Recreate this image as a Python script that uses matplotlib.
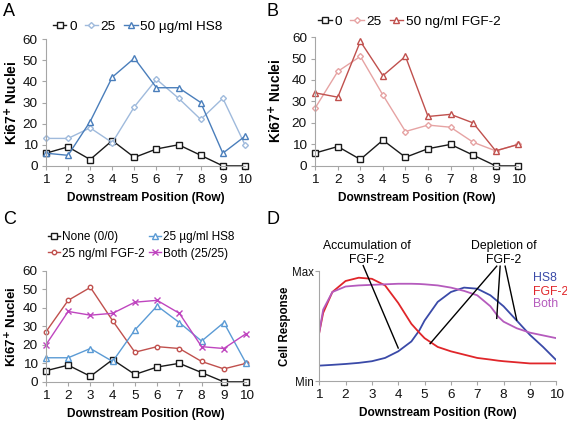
import matplotlib.pyplot as plt

plt.rcParams['font.family'] = ['Liberation Sans', 'DejaVu Sans']

# ---- data ----
rows = [1, 2, 3, 4, 5, 6, 7, 8, 9, 10]

none_vals = [6, 9, 3, 12, 4, 8, 10, 5, 0, 0]
hs8_25 = [13, 13, 18, 11, 28, 41, 32, 22, 32, 10]
hs8_50 = [6, 5, 21, 42, 51, 37, 37, 30, 6, 14]
fgf_25 = [27, 44, 51, 33, 16, 19, 18, 11, 7, 10]
fgf_50 = [34, 32, 58, 42, 51, 23, 24, 20, 7, 10]
both_25 = [20, 38, 36, 37, 43, 44, 37, 19, 18, 26]

# schematic curves (panel D), 0 = Min, 1 = Max
d_x = [1, 1.15, 1.5, 2, 2.5, 3, 3.5, 4, 4.5, 4.8, 5, 5.5, 6, 6.5, 7, 7.5, 7.8, 8, 8.5, 9, 9.5, 10]
d_hs8 = [0.14, 0.142, 0.147, 0.155, 0.165, 0.18, 0.21, 0.27, 0.36, 0.46, 0.55, 0.72, 0.81,
         0.85, 0.84, 0.78, 0.72, 0.68, 0.55, 0.42, 0.31, 0.19]
d_fgf = [0.44, 0.62, 0.81, 0.91, 0.94, 0.93, 0.87, 0.71, 0.52, 0.44, 0.39, 0.31, 0.27,
         0.24, 0.21, 0.195, 0.185, 0.18, 0.17, 0.16, 0.16, 0.16]
d_both = [0.44, 0.65, 0.81, 0.86, 0.87, 0.875, 0.88, 0.885, 0.885, 0.883, 0.88, 0.87, 0.85,
          0.82, 0.78, 0.68, 0.585, 0.54, 0.48, 0.44, 0.415, 0.39]

BLACK = '#1a1a1a'
LBLUE = '#9fbadc'
BLUE = '#4a7ebb'
LRED = '#e6a3a3'
RED = '#c0504d'
MAG = '#bf45bf'
GRID = '#a6a6a6'
TICK_FS = 9.7
XLAB_FS = 8.6

fig = plt.figure(figsize=(5.67, 4.21), dpi=100)


def style_axes(ax):
    ax.set_xlim(1, 10)
    ax.set_xticks(rows)
    for s in ['top', 'right']:
        ax.spines[s].set_visible(False)
    for s in ['left', 'bottom']:
        ax.spines[s].set_color(GRID)
        ax.spines[s].set_linewidth(0.8)
    ax.tick_params(colors=GRID, labelcolor='#111111', labelsize=TICK_FS,
                   length=3, width=0.8, pad=3)
    ax.set_xlabel('Downstream Position (Row)', fontsize=XLAB_FS, fontweight='bold', labelpad=4)


def count_axes(rect, ylab_fs=10):
    ax = fig.add_axes(rect)
    style_axes(ax)
    ax.set_ylim(0, 60)
    ax.set_yticks([0, 10, 20, 30, 40, 50, 60])
    ax.set_ylabel('Ki67$^{\\mathbf{+}}$ Nuclei', fontsize=ylab_fs, fontweight='bold')
    ax.yaxis.set_label_coords(-0.13, 0.5)
    return ax


def series(ax, y, color, marker, label, ms=3.8):
    ax.plot(rows, y, color=color, lw=1.0, marker=marker, ms=ms, mfc='white',
            mec=color, mew=1.0, label=label, clip_on=False)


leg_kw = dict(frameon=False, handlelength=1.0, handletextpad=0.2,
              borderaxespad=0, borderpad=0)

# ---- A ----
axA = count_axes([0.081, 0.606, 0.351, 0.301])
series(axA, none_vals, BLACK, 's', '0')
series(axA, hs8_25, LBLUE, 'D', '25', ms=3.0)
series(axA, hs8_50, BLUE, '^', '50 µg/ml HS8')
axA.legend(loc='lower left', bbox_to_anchor=(0.035, 1.05), ncol=3, columnspacing=0.6,
           fontsize=9.7, **leg_kw)

# ---- B ----
axB = count_axes([0.556, 0.606, 0.358, 0.306])
axB.set_ylabel('')
series(axB, none_vals, BLACK, 's', '0')
series(axB, fgf_25, LRED, 'D', '25', ms=3.0)
series(axB, fgf_50, RED, '^', '50 ng/ml FGF-2')
axB.legend(loc='lower left', bbox_to_anchor=(0.015, 1.07), ncol=3, columnspacing=0.6,
           fontsize=9.7, **leg_kw)
fig.text(0.487, 0.76, 'Ki67$^{\\mathbf{+}}$ Nuclei', rotation=90, fontsize=10,
         fontweight='bold', ha='center', va='center')

# ---- C ----
axC = count_axes([0.081, 0.093, 0.353, 0.264], ylab_fs=9.5)
series(axC, none_vals, BLACK, 's', 'None (0/0)')
series(axC, fgf_25, RED, 'o', '25 ng/ml FGF-2', ms=3.2)
series(axC, hs8_25, '#5b9bd5', '^', '25 µg/ml HS8')
series(axC, both_25, MAG, 'x', 'Both (25/25)')
axC.legend(loc='lower left', bbox_to_anchor=(0.01, 1.1), ncol=2, columnspacing=0.35,
           labelspacing=0.35, fontsize=8.5, **leg_kw)

# ---- D ----
D_FS = 8.3
axD = fig.add_axes([0.563, 0.095, 0.418, 0.261])
style_axes(axD)
axD.set_ylim(0, 1)
axD.set_yticks([0, 1])
axD.set_yticklabels(['Min', 'Max'], fontsize=D_FS)
axD.tick_params(axis='y', pad=1)
axD.set_ylabel('Cell Response', fontsize=D_FS, fontweight='bold')
axD.yaxis.set_label_coords(-0.118, 0.5)
axD.plot(d_x, d_hs8, color='#3a4aa8', lw=1.3)
axD.plot(d_x, d_fgf, color='#e0262a', lw=1.3)
axD.plot(d_x, d_both, color='#b55bbd', lw=1.3)
axD.text(9.1, 0.94, 'HS8', color='#3a4aa8', fontsize=D_FS + 0.5, va='center')
axD.text(9.1, 0.81, 'FGF-2', color='#e0262a', fontsize=D_FS + 0.5, va='center')
axD.text(9.1, 0.70, 'Both', color='#b55bbd', fontsize=D_FS + 0.5, va='center')

axD.text(2.8, 1.045, 'Accumulation of\nFGF-2', ha='center', va='bottom', fontsize=D_FS + 0.5,
         linespacing=1.2)
axD.plot([2.67, 4.0], [1.05, 0.30], color='black', lw=1.0, clip_on=False)
axD.text(8.0, 1.045, 'Depletion of\nFGF-2', ha='center', va='bottom', fontsize=D_FS + 0.5,
         linespacing=1.2)
axD.plot([7.74, 5.21], [1.045, 0.34], color='black', lw=1.0, clip_on=False)
axD.plot([7.87, 7.74], [1.045, 0.57], color='black', lw=1.0, clip_on=False)
axD.plot([8.06, 8.50], [1.045, 0.555], color='black', lw=1.0, clip_on=False)

# panel letters
for x, y, letter in [(0.006, 0.993, 'A'), (0.47, 0.993, 'B'), (0.006, 0.50, 'C'), (0.47, 0.50, 'D')]:
    fig.text(x, y, letter, fontsize=13, ha='left', va='top')

fig.savefig('out.png', dpi=100)
